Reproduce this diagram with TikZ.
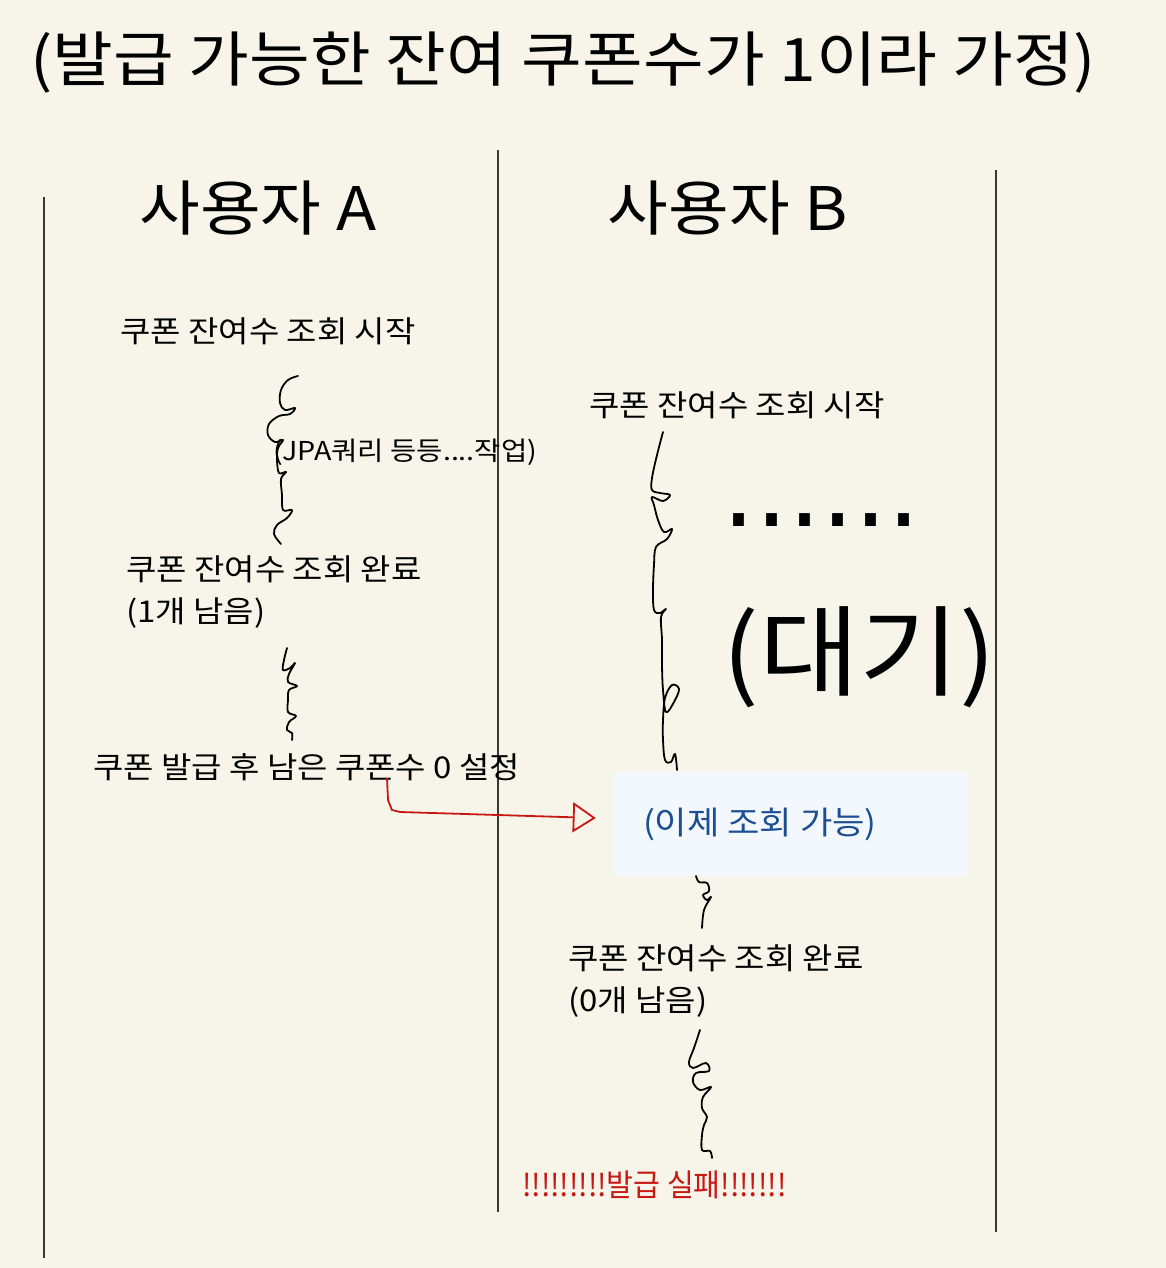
\documentclass[tikz,border=0pt]{standalone}
\usepackage{fontspec}
\setmainfont{Noto Sans CJK KR}[FakeStretch=1.1]
\newfontfamily\dotfont{DejaVu Sans}
\newfontfamily\failfont{Noto Sans CJK KR}[FakeStretch=0.94]
\usepackage{xcolor}
\definecolor{paper}{RGB}{247,245,234}
\definecolor{lanegray}{RGB}{55,55,55}
\definecolor{failred}{RGB}{200,24,20}
\definecolor{noteblue}{RGB}{28,78,145}
\definecolor{notefill}{RGB}{243,247,254}
\usepackage{tikz}
\usetikzlibrary{positioning,arrows.meta,calc}
\newcommand{\fsz}[2]{\fontsize{#1}{#2}\selectfont}
\tikzset{
  lane/.style={draw=lanegray,line width=1.6pt},
  usertitle/.style={font=\fsz{60}{70},inner sep=0pt},
  steptext/.style={font=\fsz{30}{42},inner sep=0pt,anchor=west,align=left},
  squiggle/.style={draw=black,line width=1.8pt,line cap=round,line join=round},
  issuearrow/.style={draw=failred,line width=1.8pt,
    -{Triangle[open,length=23pt,width=30pt,line width=1.8pt]}},
  notebox/.style={rectangle,fill=notefill,minimum width=354pt,
    minimum height=104pt,inner sep=0pt},
}

\begin{document}
\begin{tikzpicture}[x=1pt,y=-1pt]
  \useasboundingbox (0,0) rectangle (1166,1268);
  \fill[paper] (0,0) rectangle (1166,1268);
  % --- title ---
  \node[anchor=west,inner sep=0pt,font=\fsz{60}{70}] (title) at (30,63)
    {(발급 가능한 잔여 쿠폰수가 1이라 가정)};
  % --- lanes ---
  \draw[lane] (44,197) -- (44,1258);
  \draw[lane] (498,150) -- (498,1212);
  \draw[lane] (996,170) -- (996,1232);
  \node[usertitle] (userA) at (258,208) {사용자 A};
  \node[usertitle] (userB) at (728,208) {사용자 B};
  % --- user A ---
  \node[steptext] (startA) at (120,331) {쿠폰 잔여수 조회 시작};
  \node[steptext,font=\fsz{26}{30}] (jpa) at (273,452) {(JPA쿼리 등등....작업)};
  \node[steptext] (doneA) at (126,592) {쿠폰 잔여수 조회 완료\\(1개 남음)};
  \node[steptext] (setA) at (93,767) {쿠폰 발급 후 남은 쿠폰수 0 설정};
  \draw[squiggle] plot[smooth,tension=0.6] coordinates {(298,376) (288,380) (281,390)
    (280,403) (285,410) (295,408) (290,414) (279,416) (269,424) (268,435) (275,442)
    (283,440) (278,448) (277,460) (279,473) (286,472) (281,479) (282,495) (283,510)
    (292,510) (287,518) (277,525) (274,534) (281,544)};
  \draw[squiggle] plot[smooth,tension=0.6] coordinates {(287,648) (284,660) (283,670)
    (290,668) (295,663) (289,674) (288,682) (297,686) (289,690) (288,700) (288,712)
    (296,716) (289,722) (287,730) (292,733) (292,740)};
  % --- user B ---
  \node[steptext] (startB) at (589,405) {쿠폰 잔여수 조회 시작};
  \node[anchor=base west,inner sep=0pt,font=\dotfont\fsz{104}{104}] (dots) at (722,526) {......};
  \node[anchor=west,inner sep=0pt,font=\fsz{99}{100}] (wait) at (722,657) {(대기)};
  \draw[squiggle] plot[smooth,tension=0.6] coordinates {(663,432) (657,455) (652,478)
    (652,490) (660,493) (670,495) (663,501) (652,497) (654,505) (658,520) (664,532)
    (672,529) (667,539) (656,547) (654,565) (653,590) (654,610) (660,613) (666,609)
    (661,617) (662,640) (662,665) (663,690) (666,712) (674,702) (679,689) (672,685)
    (665,698) (663,720) (663,740) (665,760) (671,762) (675,754) (677,770)};
  \node[notebox] (avail) at (791,824) {};
  \node[anchor=west,inner sep=0pt,font=\fsz{32}{40},text=noteblue] (availtext)
    at ($(avail.west)+(29,0)$) {(이제 조회 가능)};
  \draw[squiggle] plot[smooth,tension=0.6] coordinates {(696,876) (699,882) (707,883)
    (709,891) (703,895) (707,900) (711,897) (704,910) (702,928)};
  \node[steptext] (doneB) at (568,981) {쿠폰 잔여수 조회 완료\\(0개 남음)};
  \draw[squiggle] plot[smooth,tension=0.6] coordinates {(700,1030) (694,1048) (689,1062)
    (693,1068) (706,1063) (709,1071) (696,1073) (693,1082) (700,1090) (711,1087)
    (703,1097) (702,1108) (707,1117) (704,1125) (702,1135) (702,1150) (710,1151)
    (712,1158)};
  \node[steptext,font=\failfont\fsz{31}{40},text=failred] (fail) at (522,1185)
    {!!!!!!!!!발급 실패!!!!!!!};
  % --- A -> B ---
  \coordinate (issuefrom) at (387,778);
  \draw[issuearrow] (issuefrom) -- (388,800) -- (392,810) -- (400,812)
    -- ($(avail.west)+(-18,-6)$);
\end{tikzpicture}
\end{document}
